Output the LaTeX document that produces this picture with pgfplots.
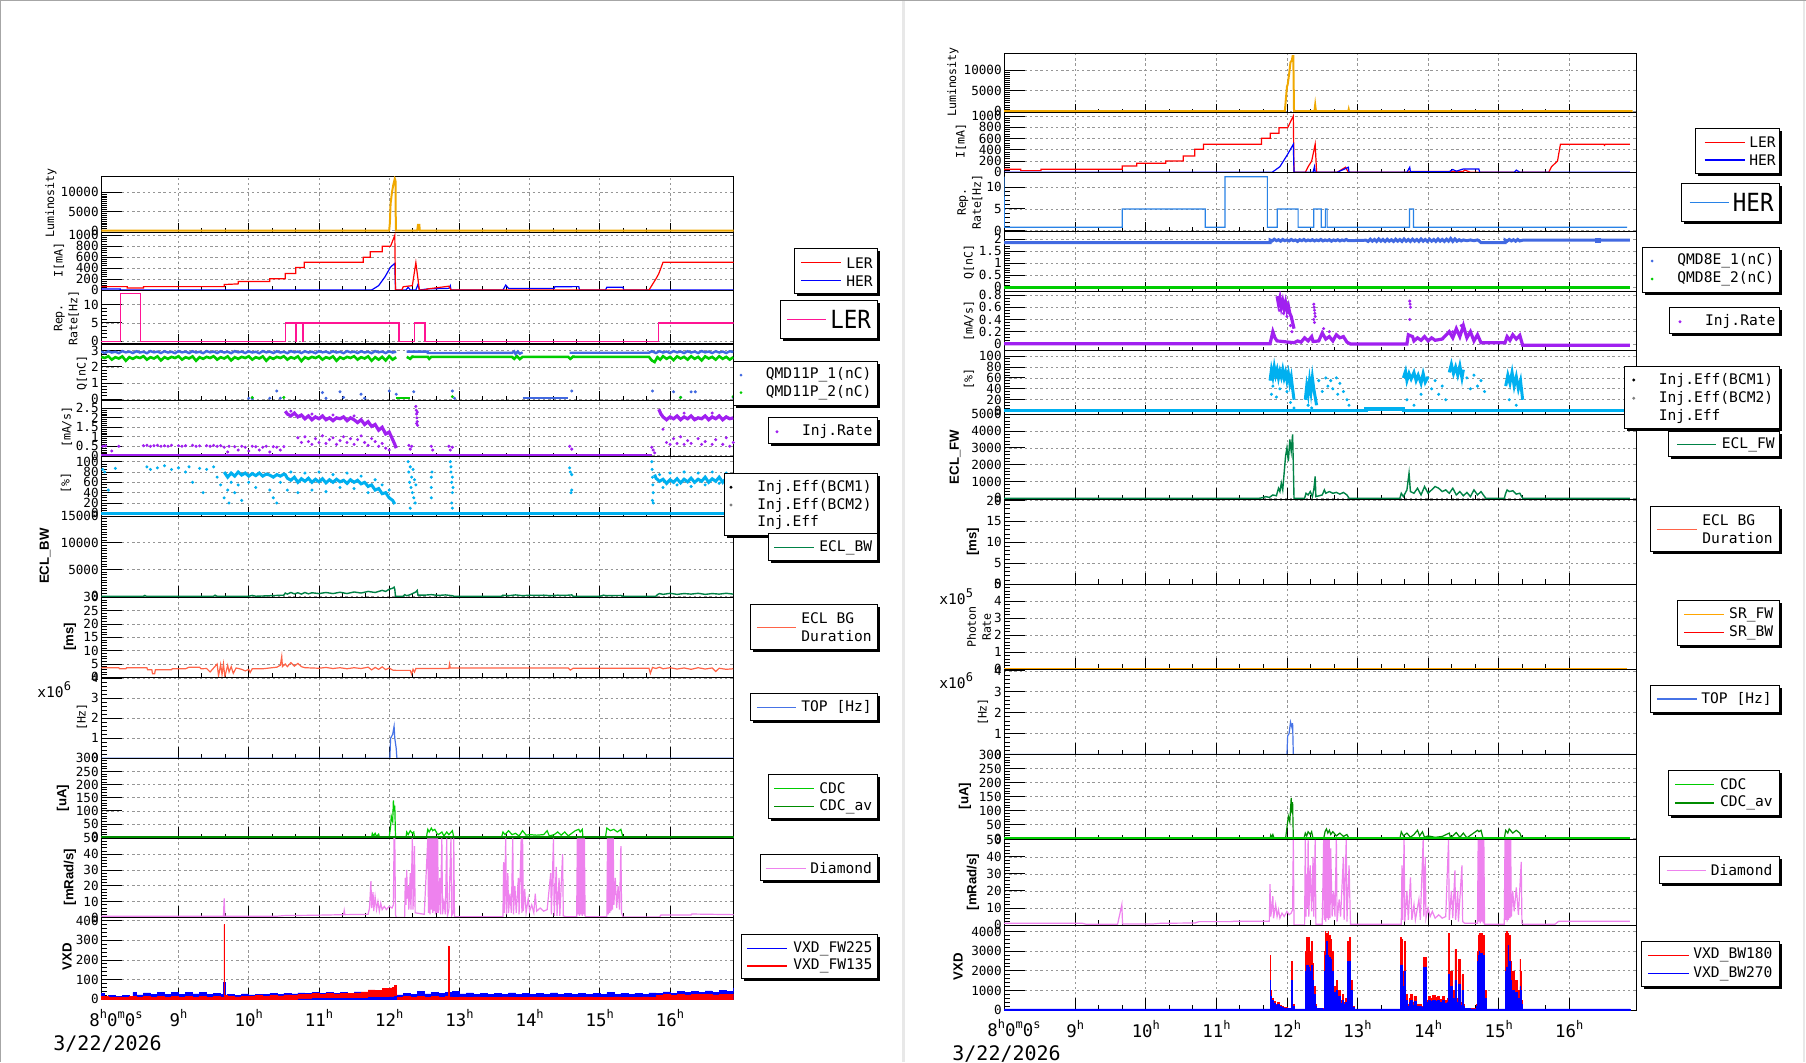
\documentclass[border=0pt]{standalone}
\usepackage{fontspec}
\setmainfont{DejaVu Sans Mono}
\setmonofont{DejaVu Sans Mono}
\newfontfamily\hsans{Liberation Sans}
\usepackage{pgfplots}
\pgfplotsset{compat=1.18}
\definecolor{lumO}{RGB}{240,168,0}
\definecolor{repP}{RGB}{255,20,147}
\definecolor{repB}{RGB}{40,130,230}
\definecolor{qB}{RGB}{65,105,225}
\definecolor{qG}{RGB}{0,205,0}
\definecolor{injP}{RGB}{160,32,240}
\definecolor{effC}{RGB}{0,176,240}
\definecolor{eclG}{RGB}{0,130,70}
\definecolor{bgT}{RGB}{255,99,71}
\definecolor{topB}{RGB}{70,115,230}
\definecolor{cdcG}{RGB}{0,204,0}
\definecolor{cdcD}{RGB}{0,140,0}
\definecolor{diaV}{RGB}{238,130,238}
\definecolor{srO}{RGB}{255,165,0}
\definecolor{gridG}{RGB}{150,150,150}
\newcommand\fTick{\fontsize{6.3}{6.3}\selectfont\ttfamily}
\newcommand\fTtl{\fontsize{5.8}{7.5}\selectfont\ttfamily}
\newcommand\fBtl{\fontsize{6.6}{7}\selectfont\hsans\bfseries}
\newcommand\fLeg{\fontsize{7.3}{8}\selectfont\ttfamily}
\newcommand\fTime{\fontsize{8.7}{9}\selectfont\ttfamily}
\newcommand\fDate{\fontsize{10}{10}\selectfont\ttfamily}
\newcommand\sps[1]{\raisebox{0.8ex}{\fontsize{6}{6}\selectfont #1}}
\newcommand\lbox[4]{\fill[black] (#1+2.5,#2+2.5) rectangle (#3+2.5,#4+2.5); \filldraw[fill=white,draw=black,line width=0.5pt] (#1,#2) rectangle (#3,#4);}
\pgfplotsset{
 P/.style 2 args={at={(#1*0.5pt,-#2*0.5pt)},anchor=north west},
 base/.style={scale only axis,width=316.3pt,tick pos=left,xtick={9,...,16},xticklabels={},
   minor x tick num=2,grid=major,
   major grid style={gridG,line width=0.35pt,dash pattern=on 1.2pt off 1.4pt},
   axis line style={line width=0.5pt},tick style={black,line width=0.45pt},
   yticklabel style={font=\fTick,inner sep=1pt},scaled y ticks=false,
   /pgf/number format/assume math mode=true,/pgf/number format/1000 sep={},
   unbounded coords=jump,major tick length=10.5pt,minor tick length=3.2pt,minor y tick num=4,
   xtick style={/pgfplots/major tick length=4.5pt,/pgfplots/minor tick length=1.8pt}},
 lower/.style={xtick style={/pgfplots/major tick length=5.8pt,/pgfplots/minor tick length=2.4pt}},
 L/.style={xmin=7.896,xmax=16.905},
 R/.style={xmin=7.99,xmax=16.955},
 bottom/.style={xticklabels={9\sps{h},10\sps{h},11\sps{h},12\sps{h},13\sps{h},14\sps{h},15\sps{h},16\sps{h}},
   xticklabel style={font=\fTime,anchor=base,yshift=-13.5pt}},
 mk/.style={only marks,mark=*,mark size=0.55pt},
}
\begin{document}
\begin{tikzpicture}
\path[use as bounding box] (0,0) rectangle (903pt,-531pt);
\fill[white] (0,0) rectangle (903pt,-531pt);
%================ LEFT COLUMN =================
% L1 Luminosity
\begin{axis}[base,L,P={101}{176},height=28pt,ymin=-350,ymax=14200,ytick={0,5000,10000},minor y tick num=9]
\addplot[lumO,line width=1pt] coordinates {(7.9,0)(12.0,0)(12.01,2000)(12.02,7000)(12.04,10000)(12.06,12000)(12.08,13500)(12.09,13000)(12.095,0)(12.40,0)(12.41,1500)(12.43,1500)(12.435,0)(16.91,0)};
\end{axis}
% L2 I[mA]
\begin{axis}[base,L,P={101}{232},height=29pt,ymin=0,ymax=1060,ytick={0,200,400,600,800,1000}]
\addplot[blue,line width=0.6pt] coordinates {(7.9,20)(8.17,20)(8.17,0)(11.75,0)(11.85,80)(11.94,240)(12.02,420)(12.08,487)(12.09,0)(12.24,0)(12.27,50)(12.30,0)(12.38,0)(12.41,100)(12.43,0)(12.55,20)(12.85,30)(12.87,80)(12.88,0)(13.62,0)(13.66,90)(13.70,30)(14.35,30)(14.36,60)(14.70,62)(14.71,0)(15.08,0)(15.10,50)(15.33,50)(15.34,0)(16.91,0)};
\addplot[red,line width=0.6pt] coordinates {(7.9,62)(8.27,62)(8.27,37)(8.50,37)(8.50,62)(9.65,62)(9.65,100)(9.85,112)(9.85,156)(10.30,156)(10.30,206)(10.52,206)(10.52,300)(10.67,300)(10.67,412)(10.79,412)(10.79,506)(11.63,506)(11.63,600)(11.73,600)(11.73,700)(11.90,700)(11.90,800)(12.02,800)(12.08,1000)(12.09,0)(12.18,0)(12.20,60)(12.33,80)(12.38,500)(12.43,0)(12.51,0)(12.55,20)(12.85,70)(12.88,0)(15.70,0)(15.80,206)(15.84,300)(15.90,506)(16.91,506)};
\end{axis}
% L3 Rep rate LER
\begin{axis}[base,L,P={101}{290},height=26.5pt,ymin=-0.5,ymax=14,ytick={0,5,10}]
\addplot[repP,line width=0.6pt] coordinates {(7.9,0)(8.17,0)(8.17,13)(8.46,13)(8.46,0)(10.52,0)(10.52,5)(10.67,5)(10.67,0)(10.68,0)(10.68,5)(10.77,5)(10.77,0)(10.78,0)(10.78,5)(12.14,5)(12.14,0)(12.36,0)(12.36,5)(12.51,5)(12.51,0)(15.84,0)(15.84,5)(16.91,5)};
\end{axis}
% L4 Q
\begin{axis}[base,L,P={101}{344},height=28pt,ymin=-0.06,ymax=3.42,ytick={0,1,2,3}]
\addplot[qG,line width=1.3pt] coordinates {(7.90,2.62)(7.95,2.55)(8.00,2.66)(8.05,2.45)(8.10,2.60)(8.15,2.52)(8.20,2.65)(8.25,2.38)(8.30,2.60)(8.35,2.50)(8.40,2.62)(8.45,2.55)(8.50,2.66)(8.55,2.45)(8.60,2.60)(8.65,2.52)(8.70,2.65)(8.75,2.40)(8.80,2.60)(8.85,2.50)(8.90,2.62)(8.95,2.55)(9.00,2.66)(9.05,2.45)(9.10,2.60)(9.15,2.52)(9.20,2.65)(9.25,2.38)(9.30,2.60)(9.35,2.50)(9.40,2.62)(9.45,2.55)(9.50,2.66)(9.55,2.45)(9.60,2.60)(9.65,2.52)(9.70,2.65)(9.75,2.40)(9.80,2.60)(9.85,2.50)(9.90,2.62)(9.95,2.55)(10.00,2.66)(10.05,2.45)(10.10,2.60)(10.15,2.52)(10.20,2.65)(10.25,2.38)(10.30,2.60)(10.35,2.50)(10.40,2.62)(10.45,2.55)(10.50,2.66)(10.55,2.45)(10.60,2.60)(10.65,2.52)(10.70,2.65)(10.75,2.36)(10.80,2.60)(10.85,2.50)(10.90,2.62)(10.95,2.55)(11.00,2.66)(11.05,2.45)(11.10,2.60)(11.15,2.52)(11.20,2.65)(11.25,2.38)(11.30,2.60)(11.35,2.50)(11.40,2.62)(11.45,2.55)(11.50,2.66)(11.55,2.45)(11.60,2.60)(11.65,2.52)(11.70,2.65)(11.75,2.38)(11.80,2.60)(11.85,2.45)(11.90,2.62)(11.95,2.40)(12.00,2.66)(12.05,2.45)(12.10,2.60)(12.10,nan)(12.25,2.62)(12.30,2.50)(12.33,2.64)(12.36,2.62)(12.55,2.62)(12.57,2.50)(12.60,2.62)(13.75,2.62)(13.78,2.50)(13.82,2.66)(13.86,2.48)(13.90,2.62)(14.55,2.62)(14.58,2.50)(14.62,2.64)(14.65,2.62)(15.70,2.62)(15.74,2.40)(15.78,2.30)(15.82,2.60)(15.86,2.45)(15.90,2.66)(15.95,2.50)(16.00,2.62)(16.05,2.42)(16.10,2.65)(16.15,2.52)(16.20,2.62)(16.25,2.45)(16.30,2.66)(16.35,2.50)(16.40,2.62)(16.45,2.40)(16.50,2.65)(16.55,2.52)(16.60,2.62)(16.65,2.45)(16.70,2.66)(16.75,2.50)(16.80,2.62)(16.85,2.45)(16.90,2.60)};
\addplot[qB,line width=1.2pt] coordinates {(7.90,2.95)(7.95,2.86)(8.00,2.97)(8.05,2.89)(8.10,2.94)(8.15,2.85)(8.20,2.98)(8.25,2.90)(8.30,2.95)(8.35,2.86)(8.40,2.97)(8.45,2.89)(8.50,2.94)(8.55,2.85)(8.60,2.98)(8.65,2.90)(8.70,2.95)(8.75,2.86)(8.80,2.97)(8.85,2.89)(8.90,2.94)(8.95,2.85)(9.00,2.98)(9.05,2.90)(9.10,2.95)(9.15,2.86)(9.20,2.97)(9.25,2.89)(9.30,2.94)(9.35,2.85)(9.40,2.98)(9.45,2.90)(9.50,2.95)(9.55,2.86)(9.60,2.97)(9.65,2.89)(9.70,2.94)(9.75,2.85)(9.80,2.98)(9.85,2.90)(9.90,2.95)(9.95,2.86)(10.00,2.97)(10.05,2.89)(10.10,2.94)(10.15,2.85)(10.20,2.98)(10.25,2.90)(10.30,2.95)(10.35,2.86)(10.40,2.97)(10.45,2.89)(10.50,2.94)(10.55,2.85)(10.60,2.98)(10.65,2.90)(10.70,2.95)(10.75,2.86)(10.80,2.97)(10.85,2.89)(10.90,2.94)(10.95,2.85)(11.00,2.98)(11.05,2.90)(11.10,2.95)(11.15,2.86)(11.20,2.97)(11.25,2.89)(11.30,2.94)(11.35,2.85)(11.40,2.98)(11.45,2.90)(11.50,2.95)(11.55,2.86)(11.60,2.97)(11.65,2.89)(11.70,2.94)(11.75,2.85)(11.80,2.98)(11.85,2.90)(11.90,2.95)(11.95,2.86)(12.00,2.97)(12.05,2.89)(12.10,2.94)(12.10,nan)(12.25,2.95)(12.55,2.95)(12.55,2.86)(13.75,2.87)(13.78,2.96)(13.80,2.80)(13.83,2.95)(13.86,2.82)(13.90,2.90)(13.90,nan)(14.57,2.88)(15.70,2.88)(15.74,2.97)(15.80,2.86)(15.85,2.97)(15.90,2.89)(15.95,2.95)(16.00,2.86)(16.05,2.98)(16.10,2.90)(16.15,2.95)(16.20,2.86)(16.25,2.97)(16.30,2.89)(16.35,2.95)(16.40,2.86)(16.45,2.98)(16.50,2.90)(16.55,2.95)(16.60,2.86)(16.65,2.97)(16.70,2.89)(16.75,2.95)(16.80,2.86)(16.85,2.97)(16.90,2.92)};
\addplot[qB,line width=1.2pt] coordinates {(13.90,0.08)(14.55,0.08)};
\addplot[qG,line width=1.2pt] coordinates {(12.10,0.05)(12.30,0.05)};
\addplot[qB,mk] coordinates {(10.0,0.05)(10.05,0.02)(10.3,0.05)(10.4,0.5)(10.45,0.05)(11.05,0.4)(11.1,0.05)(11.3,0.45)(11.35,0.1)(11.6,0.3)(11.65,0.05)(12.0,0.5)(12.1,0.3)(12.35,0.45)(12.9,0.5)(12.93,0.05)(14.6,0.5)(15.75,0.5)(16.05,0.45)(16.15,0.1)(16.3,0.45)(16.36,0.45)(16.9,0.1)};
\addplot[qG,mk] coordinates {(10.05,0.1)(10.5,0.1)(12.9,0.15)(16.15,0.1)(16.9,0.15)};
\end{axis}
% L5 Inj.Rate
\begin{axis}[base,L,P={101}{400},height=28.25pt,ymin=-0.04,ymax=2.94,ytick={0,0.5,1,1.5,2,2.5}]
\addplot[injP,line width=1.6pt] coordinates {(7.9,0.02)(15.74,0.02)};
\addplot[injP,line width=1.6pt] coordinates {(10.52,2.35)(10.55,2.2)(10.6,2.1)(10.65,2.25)(10.7,2.05)(10.75,2.15)(10.8,1.95)(10.85,2.1)(10.9,1.9)(10.95,2.05)(11.0,1.95)(11.05,2.1)(11.1,1.9)(11.15,2.0)(11.2,1.85)(11.25,2.0)(11.3,1.95)(11.35,2.05)(11.4,1.85)(11.45,2.0)(11.5,1.9)(11.55,1.75)(11.6,1.9)(11.65,1.65)(11.7,1.8)(11.75,1.55)(11.8,1.65)(11.85,1.35)(11.9,1.5)(11.95,1.15)(12.0,1.25)(12.05,0.85)(12.08,0.6)(12.1,0.4)};
\addplot[injP,line width=1.6pt] coordinates {(15.84,2.45)(15.87,2.2)(15.9,2.05)(15.95,1.9)(16.0,2.05)(16.05,1.95)(16.1,2.1)(16.15,1.9)(16.2,2.05)(16.25,1.95)(16.3,2.1)(16.35,1.9)(16.4,2.0)(16.45,1.95)(16.5,2.1)(16.55,1.9)(16.6,2.05)(16.65,1.95)(16.7,2.1)(16.75,1.9)(16.8,2.05)(16.85,1.95)(16.9,2.0)};
\addplot[injP,mk] coordinates {(7.92,0.5)(7.96,0.52)(8.05,0.25)(8.15,0.5)(8.5,0.53)(8.55,0.55)(8.6,0.5)(8.65,0.53)(8.7,0.55)(8.75,0.5)(8.8,0.53)(8.85,0.5)(8.9,0.55)(9.0,0.53)(9.05,0.5)(9.1,0.53)(9.2,0.55)(9.25,0.5)(9.3,0.52)(9.4,0.53)(9.45,0.5)(9.5,0.55)(9.55,0.5)(9.6,0.53)(9.65,0.45)(9.7,0.2)(9.72,0.5)(9.8,0.48)(9.85,0.3)(9.9,0.5)(9.95,0.45)(10.0,0.25)(10.05,0.5)(10.1,0.48)(10.15,0.3)(10.2,0.45)(10.25,0.5)(10.3,0.2)(10.35,0.48)(10.4,0.45)(10.45,0.3)(10.5,0.48)(10.7,0.95)(10.75,0.7)(10.8,1.0)(10.85,0.75)(10.9,0.6)(10.95,0.9)(11.0,0.7)(11.05,1.05)(11.1,0.65)(11.15,0.85)(11.2,0.95)(11.25,0.6)(11.3,0.8)(11.35,1.0)(11.4,0.7)(11.45,0.9)(11.5,0.6)(11.55,0.85)(11.6,1.05)(11.65,0.7)(11.7,0.55)(11.75,0.9)(11.8,0.75)(11.85,0.5)(11.9,0.65)(11.95,0.4)(12.0,0.3)(12.38,2.6)(12.385,2.4)(12.39,2.2)(12.395,2.0)(12.4,1.8)(12.405,1.6)(12.39,1.7)(12.4,2.3)(12.28,0.55)(12.3,0.35)(12.32,0.5)(12.6,0.5)(12.62,0.3)(12.85,0.5)(12.87,0.3)(12.9,0.45)(14.57,0.5)(14.6,0.35)(15.74,0.45)(15.76,0.3)(15.78,0.15)(15.9,1.4)(15.95,0.7)(16.0,0.6)(16.05,0.9)(16.1,0.65)(16.15,1.0)(16.2,0.6)(16.25,0.8)(16.3,0.65)(16.4,0.9)(16.45,0.6)(16.5,0.75)(16.6,0.6)(16.65,0.85)(16.75,0.6)(16.8,0.95)(16.85,0.5)(16.9,0.7)(10.6,2.35)(10.9,2.2)(11.2,2.15)(11.5,2.1)(16.2,2.25)(16.6,2.25)};
\end{axis}
% L6 Inj.Eff
\begin{axis}[base,L,P={101}{456.5},height=29.75pt,ymin=-5.2,ymax=110,ytick={0,20,40,60,80,100},minor y tick num=3]
\addplot[effC,line width=1.6pt] coordinates {(7.9,0)(16.91,0)};
\addplot[effC,line width=1.5pt] coordinates {(9.65,80)(9.7,70)(9.75,78)(9.8,72)(9.85,80)(9.9,74)(9.95,78)(10.0,72)(10.05,77)(10.1,73)(10.15,78)(10.2,72)(10.25,76)(10.3,74)(10.35,70)(10.4,75)(10.45,72)(10.5,76)(10.52,75)(10.55,68)(10.6,64)(10.65,70)(10.7,60)(10.75,67)(10.8,62)(10.85,68)(10.9,60)(10.95,66)(11.0,61)(11.05,67)(11.1,59)(11.15,65)(11.2,60)(11.25,66)(11.3,61)(11.35,64)(11.4,58)(11.45,65)(11.5,60)(11.55,64)(11.6,57)(11.65,60)(11.7,52)(11.75,55)(11.8,45)(11.85,48)(11.9,38)(11.95,40)(12.0,30)(12.05,25)(12.08,18)};
\addplot[effC,line width=1.5pt] coordinates {(15.78,75)(15.8,68)(15.85,62)(15.9,66)(15.95,58)(16.0,65)(16.05,60)(16.1,67)(16.15,59)(16.2,66)(16.25,61)(16.3,68)(16.35,60)(16.4,66)(16.45,62)(16.5,70)(16.55,60)(16.6,67)(16.65,62)(16.7,70)(16.75,60)(16.8,68)(16.85,64)(16.9,70)};
\addplot[effC,mk] coordinates {(7.92,85)(7.95,80)(8.0,45)(8.1,87)(8.55,90)(8.6,85)(8.7,88)(8.8,92)(8.9,85)(9.0,88)(9.1,80)(9.15,90)(9.2,60)(9.3,87)(9.35,40)(9.4,85)(9.5,90)(9.55,70)(9.6,55)(9.65,30)(9.7,45)(9.72,20)(9.75,60)(9.8,40)(9.85,55)(9.9,25)(10.0,60)(10.1,50)(10.3,45)(10.35,30)(10.4,20)(10.45,60)(10.55,45)(10.6,80)(10.7,40)(10.8,78)(10.9,45)(11.0,80)(11.1,42)(11.2,75)(11.3,50)(11.4,78)(11.5,48)(11.6,72)(11.7,40)(11.8,65)(11.9,55)(12.0,45)(12.27,100)(12.28,80)(12.29,60)(12.3,90)(12.31,50)(12.32,70)(12.33,40)(12.34,85)(12.35,30)(12.36,65)(12.37,20)(12.38,55)(12.3,10)(12.6,70)(12.6,50)(12.61,80)(12.6,30)(12.87,100)(12.88,80)(12.89,60)(12.9,40)(12.88,90)(12.89,20)(12.9,70)(12.91,50)(12.9,10)(14.57,88)(14.58,80)(14.6,75)(14.59,40)(14.6,45)(15.74,100)(15.745,85)(15.75,70)(15.755,55)(15.76,40)(15.75,25)(15.76,20)(15.85,75)(15.9,50)(16.0,78)(16.1,55)(16.2,80)(16.3,52)(16.4,78)(16.5,55)(16.6,80)(16.7,58)(16.8,78)(16.9,55)};
\end{axis}
% L7 ECL_BW
\begin{axis}[base,lower,L,P={101}{516},height=40.65pt,ymin=-200,ymax=15000,ytick={0,5000,10000,15000},minor y tick num=9]
\addplot[eclG,line width=0.7pt] coordinates {(7.9,0)(8.5,0)(8.52,150)(8.54,0)(9.5,0)(9.52,200)(9.55,0)(10.0,0)(10.05,150)(10.1,0)(10.3,100)(10.5,200)(10.52,600)(10.55,400)(10.6,700)(10.65,450)(10.7,650)(10.75,400)(10.8,700)(10.85,450)(10.9,650)(11.0,500)(11.1,700)(11.2,500)(11.3,750)(11.4,500)(11.5,800)(11.6,600)(11.7,900)(11.8,700)(11.9,1100)(11.95,900)(12.0,1300)(12.05,1500)(12.07,1700)(12.08,1300)(12.09,0)(12.2,0)(12.22,300)(12.25,100)(12.3,300)(12.38,800)(12.4,1100)(12.41,200)(12.5,200)(12.6,300)(12.7,150)(12.8,250)(12.9,100)(12.92,0)(13.6,0)(13.62,200)(13.7,100)(13.8,250)(13.9,100)(14.0,200)(14.1,150)(14.2,200)(14.3,100)(14.4,200)(14.5,150)(14.6,250)(14.62,0)(15.0,0)(15.05,200)(15.1,100)(15.3,150)(15.33,0)(15.8,0)(15.82,300)(15.85,500)(15.9,350)(16.0,550)(16.1,350)(16.2,500)(16.3,400)(16.4,550)(16.5,350)(16.6,500)(16.7,400)(16.8,550)(16.9,400)};
\end{axis}
% L8 ECL BG duration
\begin{axis}[base,lower,L,P={101}{597.3},height=40pt,ymin=0,ymax=30,ytick={0,5,10,15,20,25,30}]
\addplot[bgT,line width=0.6pt] coordinates {(7.9,3.6)(8.15,3.6)(8.16,3.2)(8.25,3.2)(8.26,3.6)(8.55,3.6)(8.56,2.8)(8.62,2.8)(8.63,1.3)(8.66,1.3)(8.67,2.8)(8.9,2.8)(8.91,3.2)(9.1,3.2)(9.15,3.8)(9.3,3.8)(9.32,3.2)(9.4,3.3)(9.45,2.0)(9.5,3.5)(9.55,5.0)(9.57,0.5)(9.6,4.8)(9.62,1.0)(9.64,5.0)(9.66,0.3)(9.7,4.5)(9.72,2.0)(9.75,4.0)(9.78,1.5)(9.82,3.5)(9.9,3.0)(9.95,2.4)(10.0,3.0)(10.02,1.8)(10.05,3.2)(10.2,3.2)(10.3,3.5)(10.4,3.8)(10.45,4.5)(10.47,7.8)(10.48,4.0)(10.52,5.0)(10.55,4.0)(10.6,5.5)(10.65,4.2)(10.7,5.2)(10.75,4.0)(10.8,3.6)(11.0,3.4)(11.1,3.7)(11.2,3.3)(11.3,3.6)(11.4,3.2)(11.5,3.6)(11.6,3.3)(11.7,3.8)(11.75,2.8)(11.8,3.7)(11.85,3.0)(11.9,3.9)(11.95,2.9)(12.0,3.5)(12.05,2.7)(12.1,2.6)(12.3,2.6)(12.32,1.2)(12.34,3.0)(12.36,2.0)(12.38,3.3)(12.85,3.3)(12.86,5.0)(12.87,3.5)(14.55,3.5)(14.58,2.7)(14.62,3.4)(15.7,3.4)(15.72,1.5)(15.75,3.7)(15.8,3.3)(15.85,3.8)(15.9,3.2)(16.0,3.6)(16.1,3.1)(16.2,3.5)(16.3,3.0)(16.4,3.6)(16.5,3.1)(16.6,3.5)(16.65,2.2)(16.7,3.4)(16.8,3.0)(16.9,3.2)};
\end{axis}
% L9 TOP
\begin{axis}[base,lower,L,P={101}{677.3},height=40.5pt,ymin=0,ymax=4.05,ytick={0,1,2,3,4}]
\addplot[topB,line width=0.6pt] coordinates {(7.9,0)(12.01,0)(12.02,1.0)(12.05,1.2)(12.07,1.6)(12.08,1.0)(12.1,0.5)(12.11,0)(16.91,0)};
\end{axis}
% L10 CDC
\begin{axis}[base,lower,L,P={101}{758.3},height=40pt,ymin=-4,ymax=300,ytick={0,50,100,150,200,250,300}]
\addplot[cdcG,line width=0.6pt] coordinates {(7.9,0)(11.75,0)(11.76,15)(11.78,5)(11.8,15)(11.82,3)(11.85,12)(11.86,0)(12.0,0)(12.02,40)(12.03,80)(12.05,60)(12.06,140)(12.07,100)(12.08,120)(12.09,0)(12.24,0)(12.25,20)(12.27,10)(12.3,25)(12.33,15)(12.35,20)(12.36,0)(12.53,0)(12.55,30)(12.57,20)(12.6,35)(12.62,25)(12.65,30)(12.68,15)(12.7,10)(12.75,20)(12.78,5)(12.82,20)(12.85,10)(12.9,25)(12.92,0)(13.6,0)(13.62,20)(13.65,10)(13.7,25)(13.75,10)(13.8,15)(13.85,5)(13.9,25)(13.93,15)(13.95,8)(14.0,10)(14.1,8)(14.2,10)(14.25,25)(14.28,5)(14.35,10)(14.4,20)(14.45,8)(14.5,20)(14.55,5)(14.65,25)(14.7,30)(14.72,20)(14.75,30)(14.76,0)(15.08,0)(15.1,35)(15.15,25)(15.2,30)(15.25,20)(15.3,30)(15.33,0)(16.91,0)};
\addplot[cdcD,line width=0.9pt] coordinates {(7.9,0)(16.91,0)};
\end{axis}
% L11 Diamond
\begin{axis}[base,lower,L,P={101}{838.3},height=39.6pt,ymin=0,ymax=50,ytick={0,10,20,30,40,50}]
\addplot[diaV,line width=0.6pt] coordinates {(7.9,0.8)(9.64,0.8)(9.65,12)(9.66,0.8)(10.4,0.8)(10.5,1.2)(10.9,1.4)(11.35,1.8)(11.36,4.5)(11.37,1.8)(11.7,2.0)(11.72,6)(11.74,23)(11.75,6)(11.77,16)(11.78,4)(11.8,13)(11.82,5)(11.84,10)(11.86,4)(11.88,9)(11.9,5)(11.93,7)(11.96,5)(12.0,7)(12.04,6)(12.06,8)(12.07,50)(12.08,50)(12.09,2)(12.1,0)(12.22,0)(12.23,25)(12.24,8)(12.25,30)(12.26,12)(12.27,20)(12.28,5)(12.3,28)(12.31,5)(12.33,50)(12.34,5)(12.35,22)(12.36,45)(12.37,3)(12.5,2)(12.55,50)(12.56,3)(12.57,50)(12.58,2)(12.59,50)(12.6,5)(12.61,50)(12.62,3)(12.63,50)(12.64,4)(12.65,50)(12.66,2)(12.67,50)(12.68,3)(12.69,50)(12.7,3)(12.72,25)(12.73,2)(12.75,50)(12.76,2)(12.78,10)(12.8,2)(12.82,50)(12.83,1)(12.85,5)(12.88,50)(12.89,1)(12.91,3)(12.92,50)(12.93,0.5)(13.62,0.5)(13.63,35)(13.64,3)(13.66,50)(13.67,2)(13.69,28)(13.7,3)(13.72,15)(13.74,3)(13.76,50)(13.77,2)(13.79,20)(13.81,3)(13.84,25)(13.85,2)(13.88,50)(13.89,3)(13.9,50)(13.91,4)(13.93,18)(13.95,3)(13.98,12)(14.0,4)(14.03,8)(14.06,3)(14.08,15)(14.1,4)(14.15,6)(14.2,4)(14.25,5)(14.3,28)(14.31,2)(14.34,50)(14.35,1)(14.38,32)(14.39,1)(14.42,25)(14.43,1)(14.47,40)(14.48,1)(14.52,0.5)(14.67,0.5)(14.68,50)(14.69,2)(14.7,50)(14.71,1)(14.72,50)(14.73,2)(14.74,50)(14.75,1)(14.76,50)(14.77,2)(14.78,50)(14.79,1)(14.8,0.5)(15.1,0.5)(15.11,50)(15.12,2)(15.13,50)(15.14,3)(15.15,50)(15.16,4)(15.17,50)(15.18,5)(15.19,50)(15.2,8)(15.22,25)(15.24,6)(15.26,20)(15.28,5)(15.3,45)(15.31,3)(15.33,0.3)(15.85,0.3)(15.87,1.6)(16.3,1.6)(16.31,2.2)(16.91,1.8)};
\end{axis}
% L12 VXD
\begin{axis}[base,lower,L,bottom,P={101}{917.5},height=40.9pt,ymin=0,ymax=416,ytick={0,100,200,300,400}]
\addplot[const plot,draw=blue,fill=blue,line width=0.3pt] coordinates {(7.9,32)(7.95,15)(8.0,18)(8.1,14)(8.2,20)(8.3,15)(8.35,35)(8.4,22)(8.5,33)(8.6,25)(8.7,36)(8.8,27)(8.9,34)(9.0,24)(9.1,36)(9.2,28)(9.3,35)(9.4,27)(9.5,32)(9.6,26)(9.64,85)(9.66,22)(9.7,26)(9.8,21)(9.9,28)(10.0,22)(10.1,27)(10.2,24)(10.3,30)(10.4,26)(10.5,31)(10.6,28)(10.7,33)(10.8,29)(10.9,35)(11.0,30)(11.1,34)(11.2,31)(11.3,37)(11.4,32)(11.5,38)(11.6,33)(11.7,40)(11.8,36)(11.9,41)(12.0,44)(12.08,50)(12.1,22)(12.2,30)(12.3,24)(12.4,40)(12.5,28)(12.6,34)(12.7,29)(12.8,37)(12.9,40)(13.0,28)(13.1,33)(13.2,27)(13.3,32)(13.4,26)(13.5,30)(13.6,25)(13.7,33)(13.8,27)(13.9,31)(14.0,25)(14.1,30)(14.2,27)(14.3,33)(14.4,26)(14.5,31)(14.6,25)(14.7,32)(14.8,27)(14.9,30)(15.0,27)(15.1,34)(15.2,26)(15.3,32)(15.4,27)(15.5,31)(15.6,26)(15.7,33)(15.8,29)(15.9,38)(16.0,32)(16.1,40)(16.2,34)(16.3,41)(16.4,36)(16.5,43)(16.6,37)(16.7,45)(16.8,40)(16.9,58)(16.91,58)} \closedcycle;
\addplot[const plot,draw=red,fill=red,line width=0.3pt] coordinates {(7.9,15)(8.0,8)(8.1,12)(8.2,8)(8.3,13)(8.4,9)(8.5,14)(8.6,10)(8.7,13)(8.8,9)(8.9,14)(9.0,10)(9.1,13)(9.2,9)(9.3,14)(9.4,10)(9.5,13)(9.6,9)(9.645,380)(9.655,18)(9.7,15)(9.8,12)(9.9,16)(10.0,13)(10.1,18)(10.2,15)(10.3,20)(10.4,17)(10.5,22)(10.6,20)(10.7,27)(10.8,24)(10.9,30)(11.0,27)(11.1,31)(11.2,28)(11.3,32)(11.4,29)(11.5,33)(11.6,38)(11.7,48)(11.8,45)(11.9,55)(12.0,58)(12.05,62)(12.08,70)(12.1,10)(12.2,14)(12.3,9)(12.4,15)(12.5,10)(12.6,14)(12.7,9)(12.8,13)(12.845,272)(12.855,12)(12.9,9)(13.0,12)(13.1,8)(13.2,12)(13.3,8)(13.4,11)(13.5,8)(13.6,12)(13.7,8)(13.8,11)(13.9,8)(14.0,12)(14.1,8)(14.2,11)(14.3,8)(14.4,12)(14.5,8)(14.6,11)(14.7,8)(14.8,12)(14.9,8)(15.0,11)(15.1,8)(15.2,12)(15.3,8)(15.4,11)(15.5,8)(15.6,12)(15.7,9)(15.8,20)(15.9,24)(16.0,21)(16.1,25)(16.2,22)(16.3,26)(16.4,23)(16.5,25)(16.6,22)(16.7,26)(16.8,23)(16.9,25)(16.91,25)} \closedcycle;
\addplot[const plot,draw=blue,fill=blue,line width=0.3pt] coordinates {(10.7,2)(10.9,3)(11.1,3)(11.3,4)(11.5,5)(11.6,6)(11.7,8)(11.8,9)(11.9,10)(12.0,12)(12.08,14)(12.1,14)} \closedcycle;
\end{axis}
%================ RIGHT COLUMN =================
% R1 Luminosity
\begin{axis}[base,R,P={1004}{53.3},height=29.6pt,ymin=-350,ymax=14200,ytick={0,5000,10000},minor y tick num=9]
\addplot[lumO,line width=1pt] coordinates {(7.99,0)(11.97,0)(11.98,2000)(12.0,6000)(12.01,6500)(12.03,9000)(12.05,12000)(12.07,12500)(12.08,13500)(12.09,13500)(12.1,0)(12.39,0)(12.4,1500)(12.41,0)(12.87,0)(12.875,400)(12.88,0)(16.9,0)};
\end{axis}
% R2 I[mA]
\begin{axis}[base,R,P={1004}{112.5},height=29.9pt,ymin=0,ymax=1062,ytick={0,200,400,600,800,1000}]
\addplot[red,line width=0.6pt] coordinates {(7.99,53)(8.227,53)(8.227,30)(8.515,30)(8.515,53)(9.666,53)(9.666,112)(9.872,112)(9.872,160)(10.283,160)(10.283,200)(10.53,200)(10.53,290)(10.694,290)(10.694,408)(10.817,408)(10.817,497)(11.64,497)(11.64,604)(11.763,604)(11.763,692)(11.887,692)(11.887,793)(12.01,793)(12.09,1000)(12.1,0)(12.26,0)(12.3,100)(12.35,200)(12.4,500)(12.42,0)(12.71,0)(12.83,90)(12.87,0)(13.7,0)(13.75,15)(14.5,15)(14.52,40)(14.6,0)(15.71,0)(15.75,100)(15.834,200)(15.875,497)(16.49,497)(16.5,480)(16.51,497)(16.86,497)};
\addplot[blue,line width=0.6pt] coordinates {(7.99,0)(11.79,0)(11.9,100)(12.0,300)(12.09,497)(12.1,0)(12.37,0)(12.39,100)(12.4,0)(12.71,0)(12.8,50)(12.87,90)(12.88,0)(13.7,0)(13.74,90)(13.75,10)(14.3,10)(14.35,50)(14.4,20)(14.5,60)(14.72,60)(14.73,0)(15.22,0)(15.25,40)(15.3,0)(16.86,0)};
\end{axis}
% R3 Rep rate HER
\begin{axis}[base,R,P={1004}{172.3},height=29.35pt,ymin=-0.07,ymax=13.4,ytick={0,5,10}]
\addplot[repB,line width=0.6pt] coordinates {(7.99,12.4)(7.995,0.8)(9.666,0.8)(9.666,5)(10.842,5)(10.842,0.8)(11.122,0.8)(11.122,12.4)(11.722,12.4)(11.722,0.8)(11.862,0.8)(11.862,5)(12.158,5)(12.158,0.8)(12.38,0.8)(12.38,5)(12.487,5)(12.487,0.8)(12.544,0.8)(12.544,5)(12.569,5)(12.569,0.8)(13.737,0.8)(13.737,5)(13.794,5)(13.794,0.8)(16.82,0.8)};
\end{axis}
% R4 Q
\begin{axis}[base,R,P={1004}{231},height=30pt,ymin=-0.15,ymax=2.33,ytick={0,0.5,1,1.5,2}]
\addplot[qG,line width=1.6pt] coordinates {(7.99,0)(16.86,0)};
\addplot[qB,line width=1.5pt] coordinates {(7.99,1.85)(11.76,1.85)(11.76,1.96)(11.79,1.92)(11.82,1.99)(11.85,1.93)(11.88,1.97)(11.91,1.91)(11.94,1.98)(11.97,1.93)(12.0,1.96)(12.03,1.92)(12.06,1.98)(12.09,1.93)(12.12,1.96)(12.15,1.9)(12.18,1.97)(12.21,1.93)(12.24,1.98)(12.27,1.92)(12.3,1.96)(12.33,1.93)(12.36,1.97)(12.39,1.92)(12.42,1.96)(12.45,1.93)(12.48,1.98)(12.51,1.92)(12.54,1.96)(12.57,1.93)(12.6,1.97)(12.63,1.91)(12.66,1.96)(12.69,1.93)(12.72,1.97)(12.75,1.92)(12.78,1.96)(12.81,1.93)(12.84,1.98)(12.87,1.93)(13.12,1.95)(13.15,1.9)(13.18,1.99)(13.21,1.91)(13.24,1.98)(13.27,1.9)(13.3,2.0)(13.33,1.91)(13.36,1.98)(13.39,1.9)(13.42,1.99)(13.45,1.91)(13.48,1.97)(13.51,1.9)(13.54,1.99)(13.57,1.91)(13.6,1.98)(13.63,1.9)(13.66,2.0)(13.69,1.91)(13.72,1.98)(13.75,1.9)(13.78,1.99)(13.81,1.91)(13.84,1.98)(13.87,1.9)(13.9,2.0)(13.93,1.91)(13.96,1.98)(13.99,1.9)(14.02,1.99)(14.05,1.91)(14.08,1.98)(14.11,1.9)(14.14,2.0)(14.17,1.91)(14.2,1.98)(14.23,1.9)(14.26,1.99)(14.29,1.91)(14.32,2.02)(14.35,1.9)(14.38,2.0)(14.41,1.91)(14.44,1.97)(14.47,1.92)(14.5,1.96)(14.55,1.93)(14.6,1.96)(14.65,1.93)(14.7,1.96)(14.72,1.93)(14.75,1.85)(15.09,1.85)(15.09,1.96)(15.12,1.91)(15.15,1.98)(15.18,1.92)(15.21,1.97)(15.24,1.91)(15.27,1.98)(15.3,1.92)(15.34,1.95)(16.86,1.95)};
\addplot[qB,only marks,mark=square*,mark size=1.2pt] coordinates {(16.41,1.94)};
\end{axis}
% R5 Inj.Rate
\begin{axis}[base,R,P={1004}{291},height=29.85pt,ymin=-0.11,ymax=0.865,ytick={0,0.2,0.4,0.6,0.8},minor y tick num=3]
\addplot[injP,line width=1.6pt] coordinates {(7.99,0.005)(11.76,0.005)(11.78,0.1)(11.8,0.2)(11.83,0.1)(11.86,0.05)(12.1,0.02)(12.15,0.05)(12.2,0.03)(12.25,0.1)(12.3,0.05)(12.35,0.12)(12.37,0.04)(12.45,0.05)(12.5,0.18)(12.55,0.08)(12.6,0.12)(12.65,0.05)(12.7,0.15)(12.75,0.1)(12.8,0.12)(12.85,0.03)(12.9,0)(13.7,0)(13.72,0.15)(13.78,0.12)(13.8,0.05)(13.85,0.1)(13.9,0.06)(13.95,0.12)(14.0,0.05)(14.05,0.1)(14.1,0.06)(14.2,0.08)(14.3,0.2)(14.35,0.1)(14.4,0.25)(14.45,0.12)(14.5,0.3)(14.55,0.1)(14.6,0.2)(14.65,0.05)(14.7,0.15)(14.75,0.02)(15.09,0.02)(15.12,0.12)(15.16,0.06)(15.2,0.15)(15.25,0.08)(15.3,0.14)(15.34,-0.02)(16.86,-0.02)};
\addplot[injP,line width=1.6pt] coordinates {(11.86,0.78)(11.88,0.65)(11.9,0.75)(11.92,0.6)(11.94,0.7)(11.96,0.58)(11.98,0.68)(12.0,0.55)(12.02,0.62)(12.04,0.5)(12.06,0.45)(12.08,0.35)(12.1,0.25)};
\addplot[injP,mk] coordinates {(11.9,0.55)(11.95,0.5)(12.0,0.45)(12.05,0.3)(12.07,0.2)(12.38,0.65)(12.385,0.6)(12.39,0.55)(12.395,0.5)(12.4,0.45)(12.38,0.4)(12.39,0.35)(13.74,0.7)(13.745,0.65)(13.75,0.6)(13.74,0.4)(14.47,0.3)(14.35,0.2)(12.6,0.2)(12.52,0.25)};
\end{axis}
% R6 Inj.Eff
\begin{axis}[base,R,P={1004}{350.7},height=31.8pt,ymin=-6.6,ymax=109.7,ytick={0,20,40,60,80,100},minor y tick num=3]
\addplot[effC,line width=1.6pt] coordinates {(7.99,0)(13.12,0)(13.12,3)(13.65,3)(13.65,0)(16.86,0)};
\addplot[effC,line width=1.5pt] coordinates {(11.76,55)(11.78,75)(11.8,62)(11.82,80)(11.84,65)(11.86,75)(11.88,60)(11.9,72)(11.92,62)(11.94,75)(11.96,60)(11.98,70)(12.0,55)(12.02,68)(12.04,50)(12.06,62)(12.08,40)(12.1,20)};
\addplot[effC,line width=1.5pt] coordinates {(12.26,20)(12.28,45)(12.3,30)(12.32,55)(12.34,35)(12.36,60)(12.38,40)(12.4,25)(12.42,10)};
\addplot[effC,line width=1.5pt] coordinates {(13.65,60)(13.68,72)(13.7,55)(13.73,68)(13.76,58)(13.8,70)(13.83,55)(13.86,65)(13.9,50)(13.93,68)(13.96,52)(14.0,62)};
\addplot[effC,line width=1.5pt] coordinates {(14.3,70)(14.33,85)(14.36,68)(14.39,80)(14.42,65)(14.45,82)(14.48,60)(14.5,75)};
\addplot[effC,line width=1.5pt] coordinates {(15.1,45)(15.13,65)(15.16,50)(15.19,70)(15.22,45)(15.25,62)(15.28,40)(15.31,55)(15.34,20)};
\addplot[effC,mk] coordinates {(11.78,30)(11.8,45)(11.85,25)(11.9,40)(12.0,35)(12.05,15)(12.1,5)(12.45,55)(12.5,35)(12.55,60)(12.58,45)(12.62,55)(12.65,40)(12.7,60)(12.72,30)(12.75,50)(12.8,35)(12.85,20)(12.88,10)(14.05,40)(14.1,55)(14.15,30)(14.2,45)(14.25,20)(14.55,60)(14.6,40)(14.65,65)(14.7,45)(14.75,55)(14.8,35)(12.3,10)(12.35,5)(13.7,20)(13.8,10)(13.9,30)(15.15,20)(15.25,10)};
\end{axis}
% R7 ECL_FW
\begin{axis}[base,lower,R,P={1004}{414.3},height=42.5pt,ymin=-60,ymax=5000,ytick={0,1000,2000,3000,4000,5000}]
\addplot[eclG,line width=0.7pt] coordinates {(7.99,0)(11.6,0)(11.65,30)(11.7,100)(11.75,50)(11.8,200)(11.85,150)(11.88,600)(11.9,400)(11.92,900)(11.94,500)(11.96,1500)(11.98,2500)(12.0,3000)(12.02,2200)(12.04,3500)(12.06,2800)(12.08,3800)(12.09,2000)(12.1,0)(12.25,0)(12.27,300)(12.3,200)(12.33,400)(12.36,100)(12.38,500)(12.4,1300)(12.41,100)(12.5,200)(12.53,500)(12.55,300)(12.6,400)(12.65,300)(12.7,350)(12.75,250)(12.8,350)(12.85,200)(12.88,0)(13.6,0)(13.62,300)(13.65,100)(13.7,500)(13.73,1500)(13.75,400)(13.8,300)(13.85,600)(13.9,200)(13.95,700)(14.0,300)(14.05,500)(14.1,700)(14.15,600)(14.2,400)(14.25,500)(14.3,300)(14.35,600)(14.4,200)(14.45,400)(14.5,150)(14.55,350)(14.6,100)(14.65,500)(14.7,200)(14.75,400)(14.8,100)(14.82,0)(15.08,0)(15.1,300)(15.12,500)(15.15,400)(15.2,450)(15.25,250)(15.3,300)(15.34,0)(16.86,0)};
\end{axis}
% R8 ECL BG duration (empty)
\begin{axis}[base,lower,R,P={1004}{499.3},height=42.45pt,ymin=0,ymax=20.3,ytick={0,5,10,15,20}]
\addplot[draw=none] coordinates {(8,10)};
\end{axis}
% R9 Photon rate
\begin{axis}[base,lower,R,P={1004}{584.2},height=42.5pt,ymin=0,ymax=5,ytick={0,1,2,3,4,5}]
\addplot[red,line width=0.6pt] coordinates {(7.99,0)(16.82,0)};
\addplot[srO,line width=0.8pt] coordinates {(7.99,0)(16.82,0)};
\end{axis}
% R10 TOP
\begin{axis}[base,lower,R,P={1004}{669.2},height=42.65pt,ymin=0,ymax=4.08,ytick={0,1,2,3,4}]
\addplot[topB,line width=0.6pt] coordinates {(7.99,0)(12.0,0)(12.01,0.9)(12.03,1.0)(12.05,1.55)(12.07,1.3)(12.08,1.5)(12.09,0)(16.86,0)};
\end{axis}
% R11 CDC
\begin{axis}[base,lower,R,P={1004}{754.5},height=42.65pt,ymin=-4,ymax=300,ytick={0,50,100,150,200,250,300}]
\addplot[cdcD,line width=0.6pt] coordinates {(7.99,0)(11.76,0)(11.77,12)(11.78,5)(11.8,15)(11.82,0)(11.98,0)(12.0,40)(12.02,80)(12.04,60)(12.06,145)(12.07,90)(12.08,130)(12.09,0)(12.24,0)(12.26,20)(12.28,10)(12.3,25)(12.33,15)(12.35,25)(12.37,0)(12.52,0)(12.54,25)(12.56,35)(12.58,20)(12.6,30)(12.62,15)(12.65,25)(12.7,10)(12.75,20)(12.8,8)(12.85,15)(12.88,0)(13.6,0)(13.62,25)(13.65,10)(13.7,20)(13.75,5)(13.8,15)(13.85,30)(13.88,10)(13.92,25)(13.95,5)(14.0,10)(14.1,5)(14.2,8)(14.3,20)(14.32,3)(14.4,22)(14.45,5)(14.5,20)(14.55,3)(14.7,30)(14.72,25)(14.75,30)(14.78,0)(15.08,0)(15.1,30)(15.13,20)(15.15,35)(15.2,20)(15.25,30)(15.3,20)(15.33,0)(16.86,0)};
\addplot[cdcG,line width=1.3pt] coordinates {(7.99,0)(16.86,0)};
\end{axis}
% R12 Diamond
\begin{axis}[base,lower,R,P={1004}{839.8},height=42.6pt,ymin=0,ymax=50,ytick={0,10,20,30,40,50}]
\addplot[diaV,line width=0.6pt] coordinates {(7.99,1.0)(9.1,1.0)(9.15,0.5)(9.6,0.5)(9.66,12)(9.67,0.6)(10.1,0.6)(10.2,1)(10.7,1.2)(10.75,2)(11.2,2)(11.25,2.2)(11.75,2.2)(11.76,24)(11.77,5)(11.78,8)(11.8,17)(11.81,4)(11.84,12)(11.86,5)(11.88,9)(11.9,4)(11.93,7)(11.96,5)(12.0,8)(12.03,6)(12.06,7)(12.08,9)(12.09,50)(12.1,0)(12.25,0)(12.26,50)(12.27,5)(12.28,30)(12.29,10)(12.3,50)(12.31,5)(12.33,35)(12.35,8)(12.37,40)(12.38,5)(12.4,50)(12.41,0.5)(12.5,0.5)(12.52,50)(12.53,3)(12.54,50)(12.55,2)(12.56,50)(12.57,4)(12.58,50)(12.59,3)(12.6,50)(12.61,4)(12.62,45)(12.64,5)(12.66,20)(12.68,5)(12.7,50)(12.71,2)(12.74,15)(12.76,5)(12.8,40)(12.81,3)(12.84,50)(12.85,2)(12.88,35)(12.9,0.5)(13.62,0.5)(13.63,35)(13.64,3)(13.66,50)(13.67,2)(13.7,20)(13.72,3)(13.75,28)(13.77,3)(13.8,12)(13.82,3)(13.87,15)(13.89,3)(13.93,50)(13.94,5)(13.96,40)(13.97,4)(14.0,10)(14.03,5)(14.06,8)(14.1,4)(14.15,6)(14.2,4)(14.25,5)(14.29,50)(14.3,3)(14.33,20)(14.35,4)(14.38,32)(14.39,3)(14.42,20)(14.43,2)(14.48,35)(14.49,2)(14.52,1)(14.7,1)(14.71,50)(14.72,2)(14.73,50)(14.74,1)(14.75,50)(14.76,2)(14.77,50)(14.78,1)(14.79,50)(14.8,0.5)(15.08,0.5)(15.09,50)(15.1,3)(15.11,50)(15.12,2)(15.13,50)(15.14,3)(15.15,50)(15.16,4)(15.17,50)(15.18,5)(15.2,20)(15.22,8)(15.25,22)(15.28,6)(15.32,37)(15.33,1)(15.35,0.5)(15.8,0.5)(15.85,2.2)(16.86,2.2)};
\end{axis}
% R13 VXD
\begin{axis}[base,lower,R,bottom,P={1004}{925},height=42.5pt,ymin=0,ymax=4340,ytick={0,1000,2000,3000,4000}]
\addplot[const plot,draw=red,fill=red,line width=0.3pt] coordinates {(7.99,40)(11.75,40)(11.76,2800)(11.77,1000)(11.78,600)(11.80,450)(11.83,300)(11.86,400)(11.89,250)(11.92,200)(11.95,150)(12.0,100)(12.06,2500)(12.07,1800)(12.08,300)(12.1,40)(12.25,40)(12.26,3000)(12.27,3700)(12.28,2200)(12.29,3700)(12.30,2600)(12.31,3700)(12.32,1500)(12.33,3000)(12.34,2500)(12.35,3500)(12.36,800)(12.37,2400)(12.38,500)(12.39,1200)(12.4,300)(12.42,100)(12.5,80)(12.53,3000)(12.54,4000)(12.55,2500)(12.56,3900)(12.57,2200)(12.58,4000)(12.59,3000)(12.6,3800)(12.61,2000)(12.62,3600)(12.63,1500)(12.64,3000)(12.66,1200)(12.68,600)(12.7,1500)(12.71,600)(12.73,1000)(12.75,500)(12.78,800)(12.8,400)(12.83,600)(12.86,3500)(12.87,2500)(12.88,3700)(12.9,1500)(12.92,200)(12.95,40)(13.6,40)(13.61,3700)(13.62,3000)(13.63,3600)(13.64,2000)(13.66,3500)(13.68,800)(13.7,300)(13.73,600)(13.75,800)(13.78,400)(13.8,700)(13.83,300)(13.9,200)(13.93,2700)(13.94,1500)(13.95,2500)(13.96,2700)(13.98,500)(14.0,700)(14.03,600)(14.06,750)(14.1,650)(14.13,700)(14.16,550)(14.2,700)(14.23,500)(14.27,600)(14.29,3900)(14.3,800)(14.32,2000)(14.34,500)(14.36,1000)(14.38,3100)(14.4,600)(14.43,2600)(14.45,400)(14.48,1800)(14.5,300)(14.52,100)(14.6,80)(14.68,300)(14.7,3000)(14.71,3800)(14.72,3900)(14.73,3500)(14.74,3900)(14.75,3000)(14.76,3900)(14.77,3500)(14.78,3800)(14.79,2500)(14.8,1000)(14.82,40)(15.08,40)(15.09,3500)(15.1,3900)(15.11,4000)(15.12,3600)(15.13,3900)(15.14,3000)(15.15,3800)(15.16,2500)(15.18,1500)(15.2,2000)(15.22,1200)(15.24,1500)(15.26,800)(15.28,1000)(15.3,2600)(15.31,2000)(15.32,500)(15.34,40)(16.86,40)} \closedcycle;
\addplot[const plot,draw=blue,fill=blue,line width=0.3pt] coordinates {(7.99,60)(11.75,60)(11.76,1500)(11.77,700)(11.78,500)(11.8,350)(11.83,250)(11.86,300)(11.89,200)(11.92,150)(11.95,100)(12.0,80)(12.06,1500)(12.07,1000)(12.08,200)(12.1,60)(12.25,60)(12.26,2000)(12.27,2300)(12.28,1500)(12.29,2300)(12.3,1800)(12.31,2200)(12.32,1000)(12.33,2000)(12.34,1500)(12.35,2300)(12.36,500)(12.37,1500)(12.38,300)(12.39,800)(12.4,200)(12.42,80)(12.5,60)(12.53,2000)(12.54,2800)(12.55,1800)(12.56,3500)(12.57,1600)(12.58,2800)(12.59,2200)(12.6,2700)(12.61,1400)(12.62,2600)(12.63,1000)(12.64,2000)(12.66,900)(12.68,400)(12.7,1000)(12.71,400)(12.73,700)(12.75,350)(12.78,500)(12.8,300)(12.83,400)(12.86,2500)(12.87,1500)(12.88,2500)(12.9,1000)(12.92,150)(12.95,60)(13.6,60)(13.61,2300)(13.62,1800)(13.63,2300)(13.64,1200)(13.66,2000)(13.68,500)(13.7,200)(13.73,400)(13.75,500)(13.78,250)(13.8,450)(13.83,200)(13.9,150)(13.93,2200)(13.94,1000)(13.95,2000)(13.96,2200)(13.98,400)(14.0,500)(14.03,450)(14.06,500)(14.1,450)(14.13,500)(14.16,400)(14.2,500)(14.23,350)(14.27,400)(14.29,1800)(14.3,500)(14.32,1200)(14.34,300)(14.36,600)(14.38,1500)(14.4,400)(14.43,1300)(14.45,250)(14.48,1000)(14.5,200)(14.52,80)(14.6,60)(14.68,200)(14.7,2500)(14.71,2800)(14.72,3000)(14.73,2700)(14.74,2900)(14.75,2300)(14.76,2900)(14.77,2600)(14.78,2800)(14.79,1800)(14.8,600)(14.82,60)(15.08,60)(15.09,1800)(15.1,2000)(15.11,2200)(15.12,1900)(15.13,3300)(15.14,2000)(15.15,2500)(15.16,1500)(15.18,900)(15.2,1000)(15.22,700)(15.24,900)(15.26,500)(15.28,600)(15.3,1200)(15.31,1000)(15.32,300)(15.34,60)(16.86,60)} \closedcycle;
\end{axis}
%================ ANNOTATIONS =================
\begin{scope}[x=0.5pt,y=-0.5pt]
\draw[gray!70,line width=0.7pt] (0.5,0)--(0.5,1062);
\draw[gray!70,line width=0.7pt] (0,0.6)--(1806,0.6);
\fill[gray!18] (901.5,1.2) rectangle (904.5,1062);
\fill[gray!18] (1803,1.2) rectangle (1805,1062);
% time labels
\node[anchor=base west,font=\fTime,inner sep=0] at (89,1026.5) {8\sps{h}0\sps{m}0\sps{s}};
\node[anchor=base west,font=\fTime,inner sep=0] at (987,1036.5) {8\sps{h}0\sps{m}0\sps{s}};
\node[anchor=base west,font=\fDate,inner sep=0] at (53,1050.5) {3/22/2026};
\node[anchor=base west,font=\fDate,inner sep=0] at (952,1060) {3/22/2026};
\node[anchor=base west,font=\fLeg,inner sep=0] at (37,697) {x10\sps{6}};
\node[anchor=base west,font=\fLeg,inner sep=0] at (939,688) {x10\sps{6}};
\node[anchor=base west,font=\fLeg,inner sep=0] at (939,604) {x10\sps{5}};
% axis titles left
\tikzset{tt/.style={rotate=90,font=\fTtl,inner sep=0,align=center},bt/.style={rotate=90,font=\fBtl,inner sep=0}}
\node[tt] at (51,203) {Luminosity};
\node[tt] at (59,260) {I[mA]};
\node[tt] at (66.5,318) {Rep.\\Rate[Hz]};
\node[tt] at (82,373) {Q[nC]};
\node[tt] at (67,427) {[mA/s]};
\node[tt] at (66,483) {[\%]};
\node[bt] at (45,556) {ECL\_BW};
\node[bt] at (70,637) {[ms]};
\node[tt] at (82,717) {[Hz]};
\node[bt] at (63,798) {[uA]};
\node[bt] at (70,877) {[mRad/s]};
\node[bt] at (67,957) {VXD};
% axis titles right
\node[tt] at (953,82) {Luminosity};
\node[tt] at (961,141) {I[mA]};
\node[tt] at (970,202) {Rep.\\Rate[Hz]};
\node[tt] at (969,262) {Q[nC]};
\node[tt] at (969,321) {[mA/s]};
\node[tt] at (969,379) {[\%]};
\node[bt] at (955,457) {ECL\_FW};
\node[bt] at (973,542) {[ms]};
\node[tt] at (979,627) {Photon\\Rate};
\node[tt] at (983,712) {[Hz]};
\node[bt] at (965,796) {[uA]};
\node[bt] at (973,882) {[mRad/s]};
\node[bt] at (958,967) {VXD};
% legends left
\tikzset{lgt/.style={anchor=west,font=\fLeg,inner sep=0}}
\lbox{794}{248}{877}{293}
\draw[red,line width=0.6pt] (801,262.7)--(841,262.7); \node[lgt] at (846,262.7) {LER};
\draw[blue,line width=0.6pt] (801,280.7)--(841,280.7); \node[lgt] at (846,280.7) {HER};
\lbox{780}{300.7}{877}{338}
\draw[repP,line width=0.6pt] (787,319.3)--(826,319.3); \node[anchor=west,inner sep=0] at (830,319.3) {\scalebox{0.9}[1]{\fontsize{12.5}{13}\selectfont LER}};
\lbox{733}{361}{877}{405}
\fill[qB] (741,375) circle (1.5); \node[lgt] at (765.5,375) {QMD11P\_1(nC)};
\fill[qG] (741,392.7) circle (1.5); \node[lgt] at (765.5,392.7) {QMD11P\_2(nC)};
\lbox{768}{417}{877}{443}
\fill[injP] (777,431.7) circle (1.6); \node[lgt] at (801.6,431.7) {Inj.Rate};
\lbox{724}{473}{877}{535}
\fill[black] (731,487.3) circle (1.6); \node[lgt] at (757,487.3) {Inj.Eff(BCM1)};
\fill[gray] (731,505) circle (1.6); \node[lgt] at (757,505) {Inj.Eff(BCM2)};
\node[lgt] at (757,522.7) {Inj.Eff};
\lbox{768}{533}{877}{560}
\draw[eclG,line width=0.6pt] (774,547.3)--(814,547.3); \node[lgt] at (819,547.3) {ECL\_BW};
\lbox{750}{604}{877}{649}
\draw[bgT,line width=0.6pt] (757,627.3)--(796,627.3); \node[lgt] at (801,618.3) {ECL BG}; \node[lgt] at (801,636) {Duration};
\lbox{750}{693}{877}{720}
\draw[topB,line width=0.6pt] (757,707.3)--(796,707.3); \node[lgt] at (801,707.3) {TOP [Hz]};
\lbox{768}{774}{877}{818}
\draw[cdcG,line width=0.6pt] (774,788.3)--(814,788.3); \node[lgt] at (819,788.3) {CDC};
\draw[cdcD,line width=0.6pt] (774,806.7)--(814,806.7); \node[lgt] at (819,806.7) {CDC\_av};
\lbox{760}{854.7}{877}{880}
\draw[diaV,line width=0.6pt] (765.5,868.3)--(805.6,868.3); \node[lgt] at (810,868.3) {Diamond};
\lbox{741}{934.3}{877}{978.5}
\draw[blue,line width=0.6pt] (747,948.3)--(787,948.3); \node[lgt] at (793,948.3) {VXD\_FW225};
\draw[red,line width=0.6pt] (747,966)--(787,966); \node[lgt] at (793,966) {VXD\_FW135};
% legends right
\lbox{1695}{128.3}{1779}{173}
\draw[red,line width=0.6pt] (1704.7,142.3)--(1744.6,142.3); \node[lgt] at (1749,142.3) {LER};
\draw[blue,line width=0.6pt] (1704.7,160)--(1744.6,160); \node[lgt] at (1749,160) {HER};
\lbox{1681}{183.3}{1779}{221}
\draw[repB,line width=0.6pt] (1689.7,202.3)--(1729,202.3); \node[anchor=west,inner sep=0] at (1732.5,202.3) {\scalebox{0.9}[1]{\fontsize{12.5}{13}\selectfont HER}};
\lbox{1642}{247.3}{1779}{292}
\fill[qB] (1652,261) circle (1.5); \node[lgt] at (1677,261) {QMD8E\_1(nC)};
\fill[qG] (1652,279) circle (1.5); \node[lgt] at (1677,279) {QMD8E\_2(nC)};
\lbox{1669}{307.3}{1779}{333}
\fill[injP] (1680,321.7) circle (1.6); \node[lgt] at (1704.7,321.7) {Inj.Rate};
\lbox{1624.5}{366.7}{1779}{428}
\fill[black] (1633.7,380) circle (1.6); \node[lgt] at (1658.5,380) {Inj.Eff(BCM1)};
\fill[gray] (1633.7,398.3) circle (1.6); \node[lgt] at (1658.5,398.3) {Inj.Eff(BCM2)};
\node[lgt] at (1658.5,416) {Inj.Eff};
\lbox{1668}{431.7}{1779}{456.5}
\draw[eclG,line width=0.6pt] (1677,444.3)--(1716,444.3); \node[lgt] at (1721.5,444.3) {ECL\_FW};
\lbox{1650}{506.5}{1779}{551}
\draw[bgT,line width=0.6pt] (1656.8,529.4)--(1697,529.4); \node[lgt] at (1702,520.4) {ECL BG}; \node[lgt] at (1702,538.4) {Duration};
\lbox{1677.5}{600.4}{1779}{645}
\draw[srO,line width=0.6pt] (1684,614.7)--(1724,614.7); \node[lgt] at (1728.8,614.7) {SR\_FW};
\draw[red,line width=0.6pt] (1684,632.6)--(1724,632.6); \node[lgt] at (1728.8,632.6) {SR\_BW};
\lbox{1650}{685.3}{1779}{712}
\draw[topB,line width=0.6pt] (1656.8,699)--(1697,699); \node[lgt] at (1701,699) {TOP [Hz]};
\lbox{1668}{770.6}{1779}{815}
\draw[cdcG,line width=0.6pt] (1675,784.2)--(1714,784.2); \node[lgt] at (1719.6,784.2) {CDC};
\draw[cdcD,line width=0.6pt] (1675,802.9)--(1714,802.9); \node[lgt] at (1719.6,802.9) {CDC\_av};
\lbox{1659.6}{856.6}{1779}{883.3}
\draw[diaV,line width=0.6pt] (1666.6,870.2)--(1705.8,870.2); \node[lgt] at (1710.4,870.2) {Diamond};
\lbox{1641.8}{941.6}{1779}{986}
\draw[red,line width=0.6pt] (1648,955.2)--(1688.5,955.2); \node[lgt] at (1693,955.2) {VXD\_BW180};
\draw[blue,line width=0.6pt] (1648,973.8)--(1688.5,973.8); \node[lgt] at (1693,973.8) {VXD\_BW270};
\end{scope}
\end{tikzpicture}
\end{document}
